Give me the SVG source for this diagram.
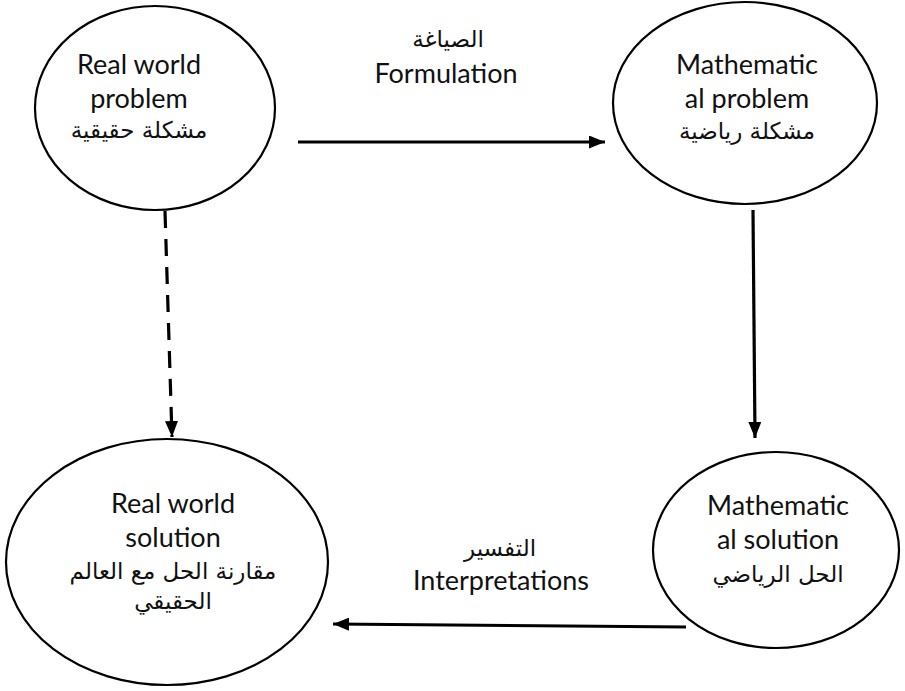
<svg xmlns="http://www.w3.org/2000/svg" width="905" height="691" viewBox="0 0 905 691">
  <style>
    .node { fill: #ffffff; stroke: #000000; stroke-width: 2.2; }
    .en { font-family: Lato, "Open Sans", sans-serif; font-size: 27px; fill: #111111; text-anchor: middle; }
    .ar { font-family: "DejaVu Sans", "Noto Sans", sans-serif; font-size: 23px; fill: #111111; text-anchor: middle; }
    .link { stroke: #000000; stroke-width: 3.2; fill: none; }
    .dash { stroke-dasharray: 17 11; }
  </style>
  <defs>
    <marker id="head" viewBox="0 0 16 13" refX="16" refY="6.5" markerWidth="16" markerHeight="13" orient="auto" markerUnits="userSpaceOnUse">
      <path d="M0,0 L16,6.5 L0,13 Z" fill="#000000"/>
    </marker>
  </defs>

  <g id="connectors">
    <line class="link" x1="298" y1="142" x2="605" y2="142" marker-end="url(#head)"/>
    <line class="link" x1="753" y1="210" x2="755" y2="438" marker-end="url(#head)"/>
    <line class="link dash" x1="165" y1="211" x2="172" y2="437" marker-end="url(#head)"/>
    <line class="link" x1="686" y1="627" x2="333" y2="624" marker-end="url(#head)"/>
  </g>

  <g id="label-formulation">
    <text class="ar" x="448" y="47">الصياغة</text>
    <text class="en" x="446" y="83">Formulation</text>
  </g>
  <g id="label-interpretations">
    <text class="ar" x="500" y="556">التفسير</text>
    <text class="en" x="501" y="590">Interpretations</text>
  </g>

  <g id="real-world-problem">
    <ellipse class="node" cx="155" cy="108" rx="120" ry="102"/>
    <text class="en" x="139" y="74">Real world</text>
    <text class="en" x="139" y="108">problem</text>
    <text class="ar" x="139" y="138">مشكلة حقيقية</text>
  </g>

  <g id="mathematical-problem">
    <ellipse class="node" cx="745" cy="103" rx="132" ry="101"/>
    <text class="en" x="747" y="74">Mathematic</text>
    <text class="en" x="747" y="108">al problem</text>
    <text class="ar" x="747" y="139">مشكلة رياضية</text>
  </g>

  <g id="real-world-solution">
    <ellipse class="node" cx="167" cy="562" rx="161" ry="123"/>
    <text class="en" x="173" y="513">Real world</text>
    <text class="en" x="173" y="547">solution</text>
    <text class="ar" x="173" y="579">مقارنة الحل مع العالم</text>
    <text class="ar" x="173" y="609">الحقيقي</text>
  </g>

  <g id="mathematical-solution">
    <ellipse class="node" cx="776" cy="550" rx="123" ry="98"/>
    <text class="en" x="778" y="515">Mathematic</text>
    <text class="en" x="778" y="549">al solution</text>
    <text class="ar" x="778" y="582">الحل الرياضي</text>
  </g>
</svg>
